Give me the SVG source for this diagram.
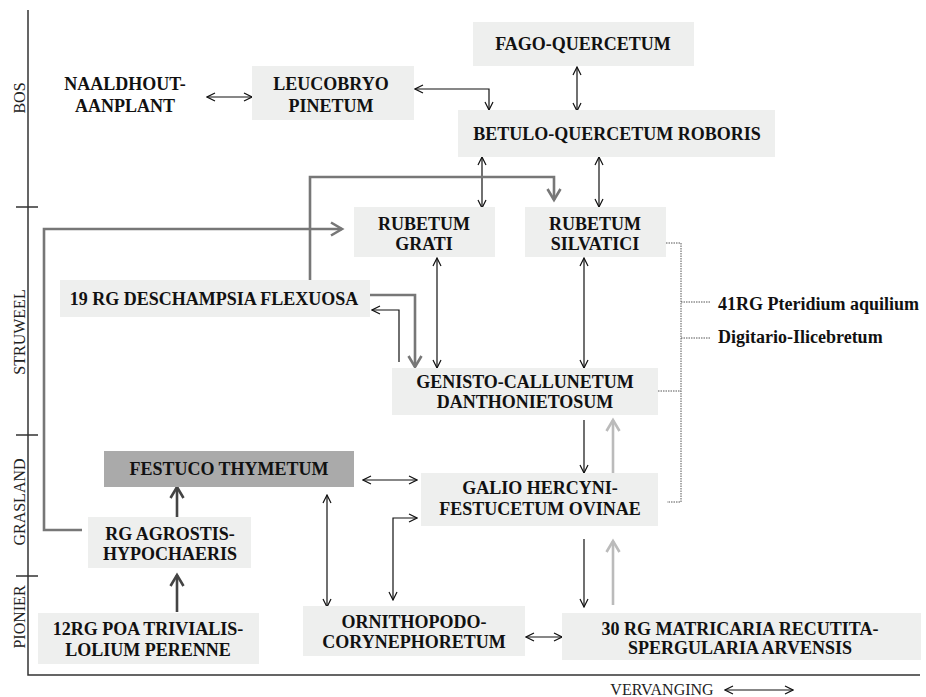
<svg xmlns="http://www.w3.org/2000/svg" width="926" height="697" viewBox="0 0 926 697">
<style>
.box{fill:#eeefee}
.dark{fill:#aaaaaa}
.t{font-family:"Liberation Serif","Times New Roman",serif;font-weight:bold;font-size:18px;fill:#111;text-anchor:middle}
.tl{font-family:"Liberation Serif","Times New Roman",serif;font-weight:bold;font-size:18px;fill:#111}
.ax{font-family:"Liberation Serif","Times New Roman",serif;font-size:16px;fill:#222;text-anchor:middle}
.axis{stroke:#333;stroke-width:1.5;fill:none}
.bl{stroke:#111;stroke-width:1.2;fill:none;marker-start:url(#mb);marker-end:url(#mb)}
.bl1{stroke:#111;stroke-width:1.2;fill:none;marker-end:url(#mb)}
.gr{stroke:#777;stroke-width:2.6;fill:none;marker-end:url(#mg)}
.lg{stroke:#bbb;stroke-width:2.6;fill:none;marker-end:url(#ml)}
.dg{stroke:#444;stroke-width:2.6;fill:none;marker-end:url(#md)}
.dot{stroke:#555;stroke-width:1;fill:none;stroke-dasharray:1.5 1}
</style>
<defs>
<marker id="mb" markerUnits="userSpaceOnUse" viewBox="0 0 10 10" refX="9" refY="5" markerWidth="10" markerHeight="10" orient="auto-start-reverse"><path d="M1,1 L9,5 L1,9" fill="none" stroke="#111" stroke-width="1.2"/></marker>
<marker id="mg" markerUnits="userSpaceOnUse" viewBox="0 0 16 16" refX="13" refY="8" markerWidth="16" markerHeight="16" orient="auto"><path d="M2,1.5 L13,8 L2,14.5" fill="none" stroke="#777" stroke-width="2.6"/></marker>
<marker id="ml" markerUnits="userSpaceOnUse" viewBox="0 0 16 16" refX="13" refY="8" markerWidth="16" markerHeight="16" orient="auto"><path d="M2,1.5 L13,8 L2,14.5" fill="none" stroke="#bbb" stroke-width="2.6"/></marker>
<marker id="md" markerUnits="userSpaceOnUse" viewBox="0 0 16 16" refX="13" refY="8" markerWidth="16" markerHeight="16" orient="auto"><path d="M2,1.5 L13,8 L2,14.5" fill="none" stroke="#444" stroke-width="2.6"/></marker>
</defs>
<rect width="926" height="697" fill="#fff"/>
<g id="axes">
<path class="axis" d="M28,10 V675 H920"/>
<path class="axis" d="M16,207 H38 M16,435 H38 M16,576 H38"/>
<text class="ax" transform="translate(25,98) rotate(-90)">BOS</text>
<text class="ax" transform="translate(25,332) rotate(-90)">STRUWEEL</text>
<text class="ax" transform="translate(25,502) rotate(-90)">GRASLAND</text>
<text class="ax" transform="translate(25,617) rotate(-90)">PIONIER</text>
<text class="ax" x="662" y="695">VERVANGING</text>
</g>
<g id="connectors">
<path class="bl" d="M725,690 H793"/>
<path class="bl" d="M207,97 H252"/>
<path class="bl" d="M415,89 H489 V110"/>
<path class="bl" d="M577,67 V111"/>
<path class="bl" d="M482,157 V208"/>
<path class="bl" d="M599,157 V207"/>
<path class="bl" d="M437,258 V368"/>
<path class="bl" d="M584,258 V368"/>
<path class="bl1" d="M584,420 V473"/>
<path class="bl1" d="M584,539 V607"/>
<path class="bl" d="M363,480 H417"/>
<path class="bl" d="M327,495 V607"/>
<path class="bl" d="M417,518 H393 V600"/>
<path class="bl" d="M526,637 H562"/>
<path class="bl1" d="M399,362 V310 H372"/>
<path class="gr" d="M310,280 V177 H554 V200"/>
<path class="gr" d="M82,530 H44 V229 H342"/>
<path class="gr" d="M370,295 H415 V367"/>
<path class="lg" d="M613,473 V420"/>
<path class="lg" d="M613,605 V541"/>
<path class="dg" d="M177,517 V487"/>
<path class="dg" d="M177,612 V575"/>
<path class="dot" d="M666,243 H681 V502 H667 M658,391 H681 M681,302 H710 M681,338 H710"/>
</g>
<g id="naaldhout"><text class="t" x="125" y="90">NAALDHOUT-</text><text class="t" x="125" y="112">AANPLANT</text></g>
<g id="leucobryo"><rect class="box" x="252" y="66" width="162" height="54"/><text class="t" x="331" y="90">LEUCOBRYO</text><text class="t" x="331" y="112">PINETUM</text></g>
<g id="fago"><rect class="box" x="473" y="22" width="221" height="44"/><text class="t" x="583" y="50">FAGO-QUERCETUM</text></g>
<g id="betulo"><rect class="box" x="458" y="110" width="317" height="47"/><text class="t" x="617" y="140">BETULO-QUERCETUM ROBORIS</text></g>
<g id="rubetum-grati"><rect class="box" x="354" y="207" width="141" height="50"/><text class="t" x="424" y="230">RUBETUM</text><text class="t" x="424" y="250">GRATI</text></g>
<g id="rubetum-silvatici"><rect class="box" x="525" y="207" width="141" height="50"/><text class="t" x="595" y="230">RUBETUM</text><text class="t" x="595" y="250">SILVATICI</text></g>
<g id="deschampsia"><rect class="box" x="60" y="280" width="310" height="37"/><text class="t" x="214" y="305">19 RG DESCHAMPSIA FLEXUOSA</text></g>
<g id="pteridium"><text class="tl" x="718" y="310">41RG Pteridium aquilium</text></g>
<g id="digitario"><text class="tl" x="718" y="343">Digitario-Ilicebretum</text></g>
<g id="genisto"><rect class="box" x="392" y="368" width="266" height="47"/><text class="t" x="525" y="388">GENISTO-CALLUNETUM</text><text class="t" x="525" y="408">DANTHONIETOSUM</text></g>
<g id="festuco"><rect class="dark" x="104" y="451" width="250" height="36"/><text class="t" x="229" y="475">FESTUCO THYMETUM</text></g>
<g id="galio"><rect class="box" x="421" y="473" width="237" height="53"/><text class="t" x="540" y="494">GALIO HERCYNI-</text><text class="t" x="540" y="515">FESTUCETUM OVINAE</text></g>
<g id="agrostis"><rect class="box" x="88" y="517" width="163" height="51"/><text class="t" x="170" y="540">RG AGROSTIS-</text><text class="t" x="170" y="560">HYPOCHAERIS</text></g>
<g id="poa"><rect class="box" x="38" y="613" width="221" height="51"/><text class="t" x="148" y="635">12RG POA TRIVIALIS-</text><text class="t" x="148" y="656">LOLIUM PERENNE</text></g>
<g id="ornithopodo"><rect class="box" x="303" y="606" width="222" height="50"/><text class="t" x="414" y="628">ORNITHOPODO-</text><text class="t" x="414" y="648">CORYNEPHORETUM</text></g>
<g id="matricaria"><rect class="box" x="562" y="613" width="359" height="47"/><text class="t" x="740" y="635">30 RG MATRICARIA RECUTITA-</text><text class="t" x="740" y="654">SPERGULARIA ARVENSIS</text></g>
</svg>
